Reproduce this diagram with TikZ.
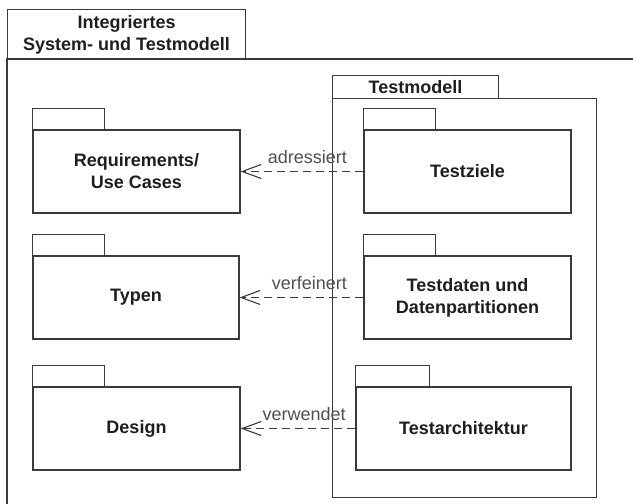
\documentclass[tikz,border=0pt]{standalone}
\usepackage{fontspec}
\setmainfont{Liberation Sans}
\usetikzlibrary{arrows.meta}
\definecolor{linec}{HTML}{3A3A3A}
\definecolor{lblc}{HTML}{505050}
\definecolor{txtc}{HTML}{1E1E1E}
\tikzset{
  every picture/.style={line width=1.1pt},
  pkgbody/.style={draw=linec, fill=white, inner sep=0pt, align=center, text=txtc,
    font=\fontsize{18}{22}\selectfont\bfseries},
  pkgtab/.style={draw=linec, fill=white},
  dep/.style={draw=linec, dash pattern=on 8pt off 5pt,
    -{Straight Barb[length=19pt,width=14pt,line width=1.1pt]}},
  lbl/.style={text=lblc, font=\fontsize{18}{22}\selectfont, inner sep=0pt}
}
\begin{document}
\begin{tikzpicture}[x=1pt,y=-1pt]
\useasboundingbox (0,0) rectangle (633,504);
\fill[white] (0,0) rectangle (633,504);
% outer frame
\draw[linec] (640,59) -- (7,59) -- (7,510);
\node[draw=linec, minimum width=238pt, minimum height=50pt, inner sep=0pt, align=center,
  text=txtc, font=\fontsize{18}{22}\selectfont\bfseries, anchor=north west]
  (title) at (7,9) {Integriertes\\System- und Testmodell};
% Testmodell package
\node[pkgtab, minimum width=166pt, minimum height=23pt, inner sep=0pt, anchor=north west,
  text=txtc, font=\fontsize{18}{22}\selectfont\bfseries] (tmtab) at (332,75) {Testmodell};
\node[draw=linec, minimum width=264pt, minimum height=399pt, inner sep=0pt, anchor=north west]
  (tm) at (332,98) {};
% left packages
\node[pkgbody, minimum width=207pt, minimum height=83pt] (req) at (136.5,171.5) {Requirements/\\Use Cases};
\node[pkgbody, minimum width=206pt, minimum height=83pt] (typ) at (136,297.5) {Typen};
\node[pkgbody, minimum width=207pt, minimum height=83pt] (des) at (136.5,428.5) {Design};
% right packages
\node[pkgbody, minimum width=207pt, minimum height=83pt] (tz) at (467.5,171.5) {Testziele};
\node[pkgbody, minimum width=207pt, minimum height=83pt] (td) at (467.5,297.5) {Testdaten und\\Datenpartitionen};
\node[pkgbody, minimum width=215pt, minimum height=83pt] (ta) at (463.5,428.5) {Testarchitektur};
% tabs
\foreach \n/\w in {req/72,typ/72,des/72,tz/72,td/72,ta/74}{
  \draw[pkgtab] (\n.north west) rectangle ++(\w,-21);
}
% dependencies
\draw[dep] (tz.west) -- (req.east)
  node[lbl, pos=0.13, anchor=base east, yshift=8pt] {adressiert};
\draw[dep] (td.west) -- (typ.east)
  node[lbl, pos=0.13, anchor=base east, yshift=8pt] {verfeinert};
\draw[dep] (ta.west) -- (des.east)
  node[lbl, pos=0.08, anchor=base east, yshift=8pt] {verwendet};
\end{tikzpicture}
\end{document}
